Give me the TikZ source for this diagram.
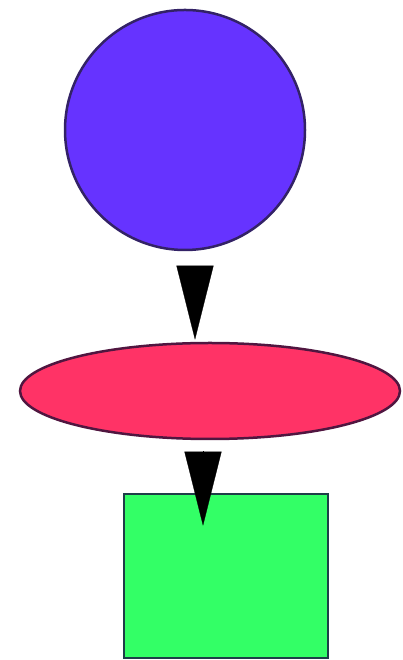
\documentclass[tikz,border=0pt]{standalone}
\usepackage{tikz}
\usetikzlibrary{positioning,arrows.meta,shapes.geometric}
\definecolor{ballblue}{RGB}{102,51,255}
\definecolor{balledge}{RGB}{51,34,102}
\definecolor{discred}{RGB}{255,51,102}
\definecolor{discedge}{RGB}{80,22,64}
\definecolor{boxgreen}{RGB}{51,255,102}
\definecolor{boxedge}{RGB}{30,62,72}

\begin{document}
\begin{tikzpicture}[
    x=1pt, y=1pt,
    ball/.style={
        circle,
        draw=balledge,
        fill=ballblue,
        line width=2.5pt,
        inner sep=0pt,
        minimum size=240pt
    },
    disc/.style={
        ellipse,
        draw=discedge,
        fill=discred,
        line width=2.5pt,
        inner sep=0pt,
        minimum width=380pt,
        minimum height=96pt
    },
    block/.style={
        rectangle,
        draw=boxedge,
        fill=boxgreen,
        line width=2.5pt,
        inner sep=0pt,
        minimum width=204pt,
        minimum height=164pt
    },
    direct/.style={
        -{Triangle[length=74pt,width=37pt]},
        line width=0.3pt,
        black
    }
]

\useasboundingbox (0,0) rectangle (402,660);

% ============================================================
% SHAPES
% ============================================================

\node[ball]  (ball)  at (185,530) {};

\node[disc]  (disc)  at (210,269) {};

\node[block] (block) at (226,84)  {};

% ============================================================
% CONNECTIONS
% ============================================================

\draw[direct]
([xshift=10pt,yshift=-15pt]ball.south) -- ([xshift=-15pt,yshift=2pt]disc.north);

\draw[direct]
([xshift=-7pt,yshift=-11pt]disc.south) -- ([xshift=-23pt,yshift=-33pt]block.north);

\end{tikzpicture}
\end{document}
